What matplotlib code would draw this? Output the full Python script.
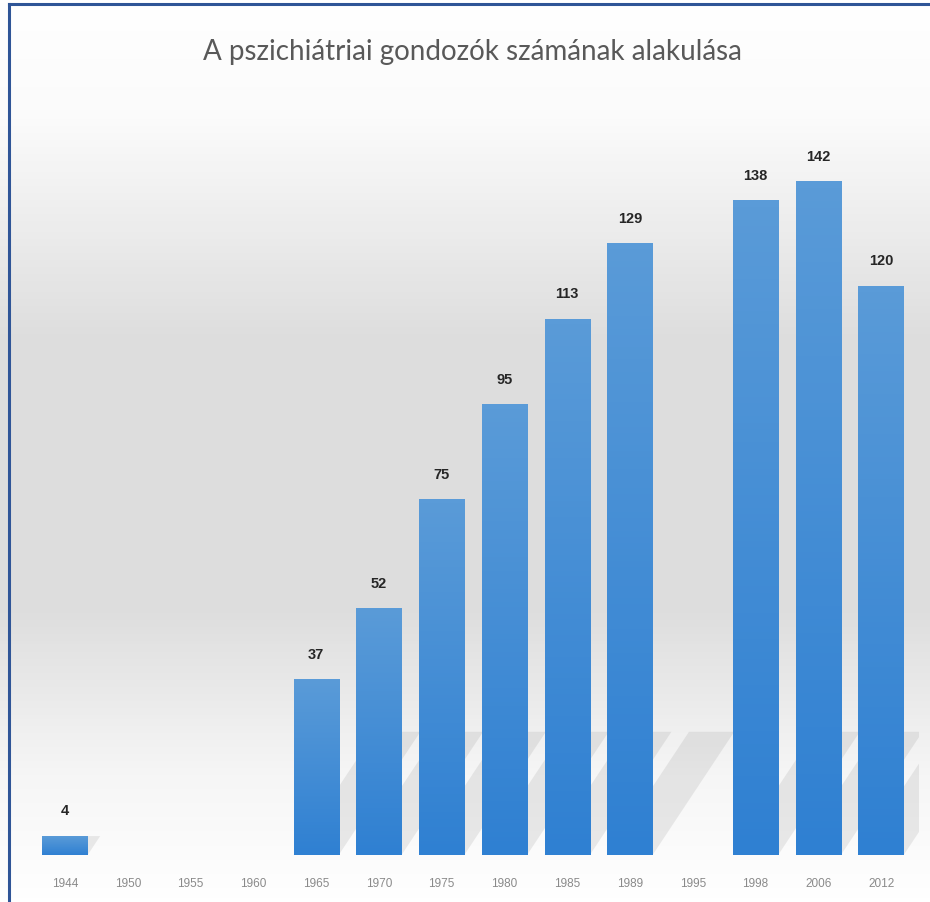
import matplotlib.pyplot as plt
import numpy as np
from matplotlib.colors import LinearSegmentedColormap
from matplotlib.patches import Polygon

years = ['1944', '1950', '1955', '1960', '1965', '1970', '1975', '1980',
         '1985', '1989', '1995', '1998', '2006', '2012']
values = [4, 0, 0, 0, 37, 52, 75, 95, 113, 129, 0, 138, 142, 120]
title = 'A pszichiátriai gondozók számának alakulása'

fig = plt.figure(figsize=(9.3, 9.03), dpi=100)

# background gradient (white - gray - white)
bg = fig.add_axes([0, 0, 1, 1], zorder=-5)
bg_cmap = LinearSegmentedColormap.from_list('bg', [
    (0.0, '#ffffff'), (0.13, '#fbfbfb'), (0.38, '#dddddd'),
    (0.68, '#dedede'), (0.86, '#f6f6f6'), (1.0, '#ffffff')])
grad = np.linspace(0, 1, 256).reshape(-1, 1)
bg.imshow(grad, aspect='auto', cmap=bg_cmap, extent=[0, 1, 0, 1], origin='upper')
bg.set_xlim(0, 1)
bg.set_ylim(0, 1)
bg.axis('off')
# blue frame (left and top)
bg.plot([0.0097, 0.0097], [0, 0.9945], color='#2f5597', lw=2.2)
bg.plot([0.0097, 1.0], [0.9945, 0.9945], color='#2f5597', lw=2.2)

ax = fig.add_axes([0.0294, 0.052, 0.9585, 0.840])
ax.patch.set_alpha(0)
x = np.arange(len(years))
w = 0.72

bar_cmap = LinearSegmentedColormap.from_list('bar', ['#2f80d2', '#5a9bd8'])
bar_grad = np.linspace(0, 1, 100).reshape(-1, 1)

bars = ax.bar(x, values, width=w, color='none')
for xi, v in zip(x, values):
    if v <= 0:
        continue
    # soft diagonal shadow
    hs = min(v, 26)
    dx = 1.3 * hs / 26
    shadow = Polygon([(xi - w / 2, 0), (xi + w / 2, 0),
                      (xi + w / 2 + dx, hs), (xi - w / 2 + dx, hs)],
                     closed=True, facecolor='#8c8c8c', alpha=0.17,
                     edgecolor='none', zorder=1)
    ax.add_patch(shadow)
    ax.imshow(bar_grad, aspect='auto', cmap=bar_cmap, origin='lower',
              extent=[xi - w / 2, xi + w / 2, 0, v], zorder=3)
    ax.text(xi, v + 4, str(v), ha='center', va='bottom', fontsize=10.5,
            fontweight='bold', color='#262626', family=['Liberation Sans', 'DejaVu Sans'])

ax.set_xlim(-0.6, len(years) - 0.4)
ax.set_ylim(0, 160)
ax.set_xticks(x)
ax.set_xticklabels(years, fontsize=8.5, color='#8a8a8a',
                   family=['Liberation Sans', 'DejaVu Sans'])
ax.tick_params(axis='x', length=0, pad=16)
ax.set_yticks([])
for s in ax.spines.values():
    s.set_visible(False)

fig.text(0.508, 0.942, title, ha='center', va='center', fontsize=20,
         color='#595959', family=['Lato', 'DejaVu Sans'])

fig.savefig('out.png', dpi=100)
